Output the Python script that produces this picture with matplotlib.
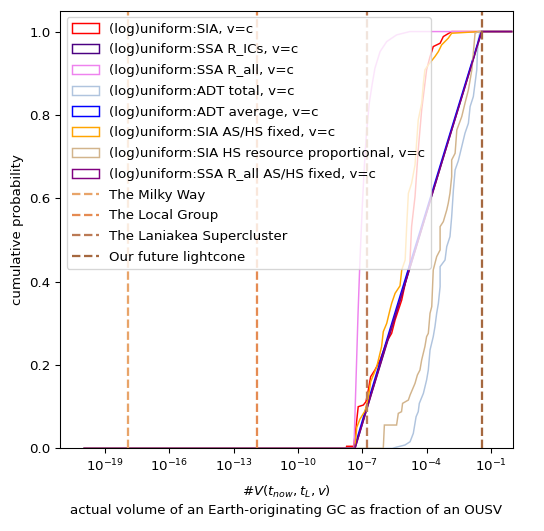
import numpy as np
import matplotlib
matplotlib.use("Agg")
import matplotlib.pyplot as plt
from matplotlib.patches import Polygon
from matplotlib.ticker import NullLocator

# histogram range (log10 of the volume fraction)
LOW_EDGE = -20.0
HIGH_EDGE = 0.0

# cumulative distributions: log10(x) knots and cumulative probability
sia_x = [-7.75, -7.73, -7.40, -7.29, -7.19, -6.95, -6.83, -6.72, -6.61, -6.41, -6.17, -5.86,
         -5.63, -5.47, -5.16, -4.93, -4.78, -4.70, -4.54, -4.39, -4.23, -4.00, -3.84, -3.76,
         -3.69, -3.37, -3.22, -2.83]
sia_y = [0.0, 0.005, 0.005, 0.052, 0.100, 0.104, 0.112, 0.140, 0.172, 0.188, 0.212, 0.256,
         0.276, 0.308, 0.356, 0.412, 0.444, 0.532, 0.604, 0.716, 0.812, 0.908, 0.940, 0.952,
         0.964, 0.972, 0.988, 1.0]

ssa_rics_x = [-7.34, -6.60, -5.85, -5.10, -4.40, -3.70, -3.00, -2.20, -1.43]
ssa_rics_y = [0.0, 0.126, 0.252, 0.378, 0.497, 0.616, 0.735, 0.870, 1.0]

ssa_rall_x = [-7.39, -7.30, -7.20, -7.11, -7.00, -6.90, -6.80, -6.67, -6.55, -6.41, -6.17,
              -5.86, -5.40, -4.78]
ssa_rall_y = [0.0, 0.15, 0.32, 0.45, 0.58, 0.68, 0.76, 0.83, 0.87, 0.912, 0.952,
              0.976, 0.992, 1.0]

adt_total_x = [-5.60, -5.40, -5.01, -4.77, -4.62, -4.49, -4.39, -4.34, -4.15, -4.00, -3.92,
               -3.84, -3.69, -3.61, -3.53, -3.45, -3.37, -3.37, -3.14, -3.06, -2.91, -2.83,
               -2.75, -2.67, -2.52, -2.36, -2.21, -2.05, -1.97, -1.82, -1.74, -1.66, -1.63,
               -1.59, -1.51]
adt_total_y = [0.0, 0.003, 0.008, 0.016, 0.036, 0.076, 0.088, 0.108, 0.132, 0.164, 0.188,
               0.236, 0.268, 0.292, 0.324, 0.348, 0.388, 0.436, 0.452, 0.484, 0.508, 0.556,
               0.620, 0.668, 0.690, 0.724, 0.756, 0.780, 0.820, 0.844, 0.876, 0.908, 0.948,
               0.980, 1.0]

adt_avg_x = [-7.38, -6.70, -5.95, -5.20, -4.45, -3.75, -3.05, -2.25, -1.45]
adt_avg_y = [0.0, 0.118, 0.245, 0.372, 0.497, 0.614, 0.732, 0.866, 1.0]

sia_fixed_x = [-7.34, -7.26, -7.11, -6.87, -6.72, -6.61, -6.33, -6.10, -6.02, -5.86, -5.71,
               -5.63, -5.47, -5.24, -5.16, -5.00, -4.93, -4.85, -4.70, -4.54, -4.39, -4.23,
               -4.15, -4.08, -3.92, -3.61, -3.45, -3.30, -2.99, -2.83, -1.51]
sia_fixed_y = [0.0, 0.05, 0.07, 0.09, 0.12, 0.16, 0.195, 0.244, 0.28, 0.30, 0.332,
               0.348, 0.372, 0.39, 0.428, 0.452, 0.532, 0.612, 0.636, 0.68, 0.788, 0.828,
               0.876, 0.908, 0.92, 0.94, 0.952, 0.968, 0.984, 0.996, 1.0]

sia_hs_x = [-6.02, -5.97, -5.40, -5.32, -5.17, -5.12, -4.85, -4.77, -4.54, -4.43, -4.31,
            -4.23, -4.08, -4.00, -3.92, -3.84, -3.76, -3.69, -3.53, -3.37, -3.37, -3.22,
            -3.06, -2.99, -2.91, -2.83, -2.83, -2.67, -2.59, -2.36, -2.21, -2.05, -1.89,
            -1.82, -1.74, -1.59]
sia_hs_y = [0.0, 0.056, 0.056, 0.084, 0.088, 0.108, 0.116, 0.128, 0.156, 0.176, 0.188,
            0.212, 0.244, 0.268, 0.276, 0.324, 0.34, 0.428, 0.46, 0.476, 0.532, 0.544,
            0.572, 0.588, 0.612, 0.652, 0.692, 0.708, 0.764, 0.796, 0.828, 0.86, 0.908,
            0.948, 0.996, 1.0]

ssa_fixed_x = [-7.34, -6.62, -5.88, -5.12, -4.40, -3.68, -2.98, -2.18, -1.43]
ssa_fixed_y = [0.0, 0.124, 0.250, 0.376, 0.498, 0.620, 0.738, 0.872, 1.0]

series_x = [sia_x, ssa_rics_x, ssa_rall_x, adt_total_x, adt_avg_x, sia_fixed_x, sia_hs_x, ssa_fixed_x]
series_y = [sia_y, ssa_rics_y, ssa_rall_y, adt_total_y, adt_avg_y, sia_fixed_y, sia_hs_y, ssa_fixed_y]
series_labels = [
    "(log)uniform:SIA, v=c",
    "(log)uniform:SSA R_ICs, v=c",
    "(log)uniform:SSA R_all, v=c",
    "(log)uniform:ADT total, v=c",
    "(log)uniform:ADT average, v=c",
    "(log)uniform:SIA AS/HS fixed, v=c",
    "(log)uniform:SIA HS resource proportional, v=c",
    "(log)uniform:SSA R_all AS/HS fixed, v=c",
]
series_colors = ["red", "indigo", "violet", "lightsteelblue", "blue", "orange", "tan", "purple"]

# reference volumes as fraction of an OUSV
ref_values = [1.2e-18, 1.2e-12, 1.7e-7, 0.04]
ref_labels = ["The Milky Way", "The Local Group", "The Laniakea Supercluster", "Our future lightcone"]
ref_colors = ["#e8a469", "#e58b52", "#bb7a55", "#a5683f"]

DPI = 96
fig = plt.figure(figsize=(544 / DPI, 531 / DPI), dpi=DPI)
ax = fig.add_subplot(111)
fig.subplots_adjust(left=0.1103, right=0.943, top=0.9798, bottom=0.1556)

for xs, ys, lab, col in zip(series_x, series_y, series_labels, series_colors):
    lx = np.concatenate([[LOW_EDGE], xs, [HIGH_EDGE]])
    ly = np.concatenate([[0.0], ys, [1.0]])
    poly = Polygon(np.column_stack([10.0 ** lx, ly]), closed=False, fill=False,
                   edgecolor=col, linewidth=1.1, label=lab)
    ax.add_patch(poly)

for v, lab, col in zip(ref_values, ref_labels, ref_colors):
    ax.axvline(v, color=col, ls="--", lw=1.7, label=lab)

ax.set_xscale("log")
ax.set_xlim(10 ** -21.1, 10 ** 0.03)
ax.set_ylim(0, 1.05)
ax.set_xticks(10.0 ** np.arange(-19, 0, 3))
ax.xaxis.set_minor_locator(NullLocator())

ax.set_xlabel("#$V(t_{now}, t_L, v)$\nactual volume of an Earth-originating GC as fraction of an OUSV",
              labelpad=7, linespacing=1.4)
ax.set_ylabel("cumulative probability")
ax.legend(loc="upper left", labelspacing=0.58)

fig.savefig("out.png", dpi=DPI)
